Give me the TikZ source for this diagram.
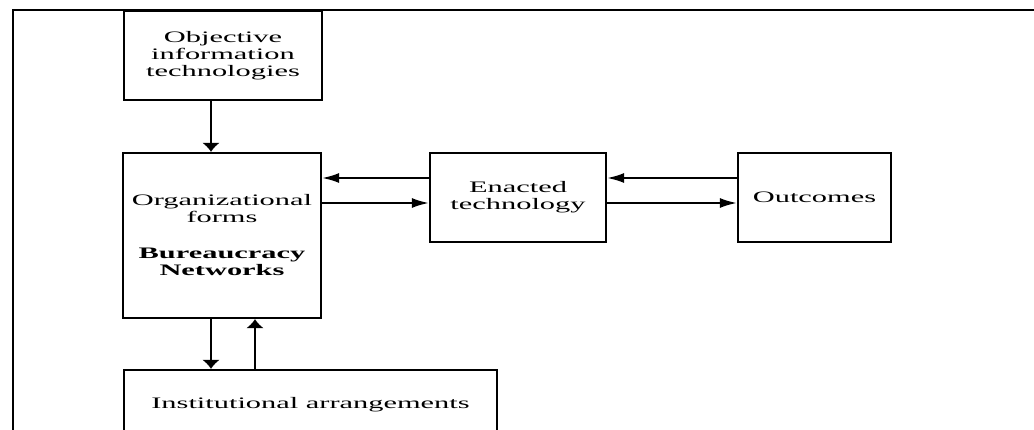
\documentclass[tikz,border=0pt]{standalone}
\usepackage{fontspec}
\setmainfont{Liberation Serif}[FakeStretch=1.9]
\usetikzlibrary{arrows.meta}
\begin{document}
\begin{tikzpicture}[x=1pt,y=-1pt,
  box/.style={draw, line width=2.3pt, rectangle, align=center, inner sep=0pt,
    font=\fontsize{16}{17}\selectfont},
  harrow/.style={line width=1.9pt, -{Latex[length=17pt,width=10pt]}},
  varrow/.style={line width=2.1pt, -{Latex[length=9pt,width=18pt]}},
  frame/.style={line width=2.8pt}]
\useasboundingbox (0,0) rectangle (1034,430);
\clip (0,0) rectangle (1034,430);

% outer frame (top and left edges)
\coordinate (frameTR) at (1040,10);
\coordinate (frameTL) at (13,10);
\coordinate (frameBL) at (13,440);
\draw[frame] (frameTR) -- (frameTL) -- (frameBL);

% boxes
\node[box, minimum width=198, minimum height=89] (obj) at (223,55.5)
  {Objective\\information\\technologies};
\node[box, minimum width=198, minimum height=165] (org) at (222,235.5)
  {Organizational\\forms\\[19pt]\textbf{Bureaucracy}\\\textbf{Networks}};
\node[box, minimum width=176, minimum height=89] (ena) at (518,197.5)
  {Enacted\\technology};
\node[box, minimum width=153, minimum height=89] (out) at (814.5,197.5)
  {Outcomes};
\node[box, minimum width=373, minimum height=70] (inst) at (310.5,405)
  {Institutional arrangements};

% guide coordinates for the connectors
\coordinate (xa) at (211,0);
\coordinate (xb) at (255,0);
\coordinate (yu) at (0,178);
\coordinate (yl) at (0,203);

% connectors
\draw[varrow] (obj.south -| xa) -- (org.north -| xa);
\draw[varrow] (org.south -| xa) -- (inst.north -| xa);
\draw[varrow, line width=2.7pt] (inst.north -| xb) -- (org.south -| xb);
\draw[harrow] (ena.west |- yu) -- (org.east |- yu);
\draw[harrow] (org.east |- yl) -- (ena.west |- yl);
\draw[harrow] (out.west |- yu) -- (ena.east |- yu);
\draw[harrow] (ena.east |- yl) -- (out.west |- yl);
\end{tikzpicture}
\end{document}
